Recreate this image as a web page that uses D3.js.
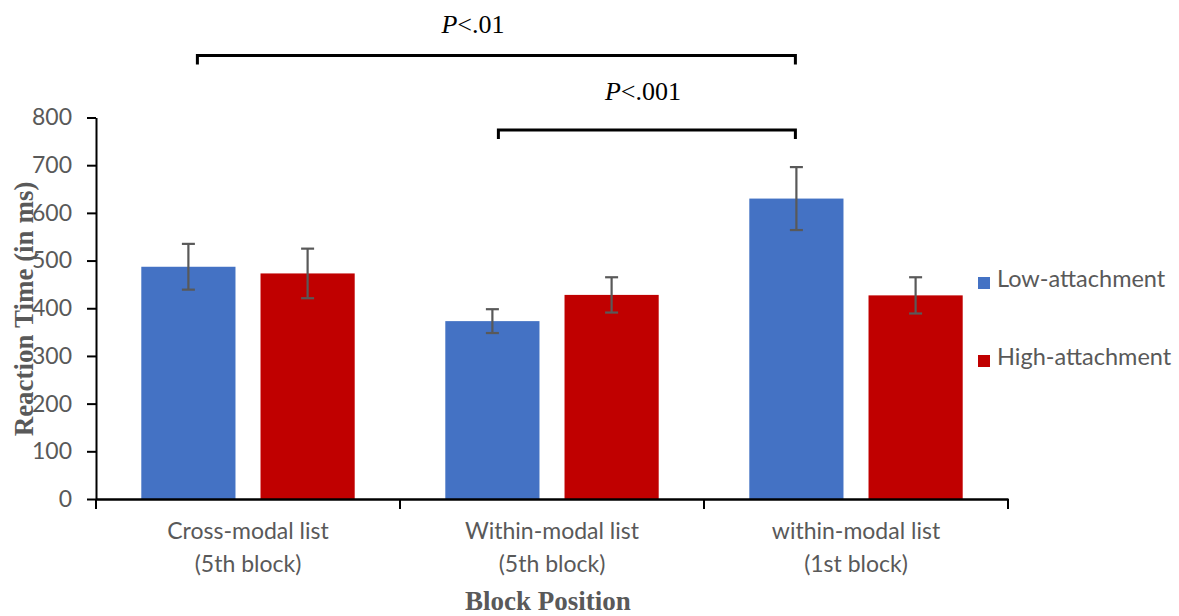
<!DOCTYPE html>
<html>
<head>
<meta charset="utf-8">
<script src="https://cdn.jsdelivr.net/npm/d3@7"></script>
<style>
  body { margin: 0; background: #fff; }
</style>
</head>
<body>
<div id="chartParent"></div>
<script>
// data
const categories = ["Cross-modal list|(5th block)", "Within-modal list|(5th block)", "within-modal list|(1st block)"];
const seriesNames = ["Low-attachment", "High-attachment"];
const lowValues = [487, 373, 630];
const lowErrors = [48, 25, 66];
const highValues = [473, 428, 427];
const highErrors = [52, 37, 38];
const yTicks = [0, 100, 200, 300, 400, 500, 600, 700, 800];
const brackets = [
  { from: 0, to: 2, label: ".01" },
  { from: 1, to: 2, label: ".001" }
];

const colors = ["#4472C4", "#C00000"];
const grey = "#595959";
const labelFont = "Lato, 'Open Sans', sans-serif";
const serifFont = "'Liberation Serif', 'Times New Roman', serif";

const W = 1179, H = 616;
const margin = { top: 117.5, left: 96, right: 171, bottom: 117 };
const width = W - margin.left - margin.right,
      height = H - margin.top - margin.bottom;

const svg = d3.select("#chartParent")
  .append("svg")
  .attr("width", W)
  .attr("height", H);

const g = svg.append("g")
  .attr("transform", `translate(${margin.left}, ${margin.top})`);

// scales
const x = d3.scaleBand()
  .domain(categories)
  .range([0, width])
  .padding(0);

const xs = d3.scaleBand()
  .domain(seriesNames)
  .range([0, x.bandwidth()])
  .paddingInner(0.21)
  .paddingOuter(0.38);

const y = d3.scaleLinear()
  .domain([0, 800])
  .range([height, 0]);

// bars
const rows = [];
categories.forEach((c, i) => {
  rows.push({ cat: c, s: seriesNames[0], v: lowValues[i], e: lowErrors[i], col: colors[0] });
  rows.push({ cat: c, s: seriesNames[1], v: highValues[i], e: highErrors[i], col: colors[1] });
});

g.append("g")
  .selectAll("rect")
  .data(rows)
  .enter()
  .append("rect")
    .attr("x", d => x(d.cat) + xs(d.s))
    .attr("y", d => y(d.v))
    .attr("width", xs.bandwidth())
    .attr("height", d => y(0) - y(d.v))
    .style("fill", d => d.col);

// error bars
const eb = g.append("g")
  .attr("stroke", grey)
  .attr("stroke-width", 2.2);
rows.forEach(d => {
  const cx = x(d.cat) + xs(d.s) + xs.bandwidth() / 2;
  eb.append("line")
    .attr("x1", cx).attr("x2", cx)
    .attr("y1", y(d.v + d.e)).attr("y2", y(d.v - d.e));
  [d.v + d.e, d.v - d.e].forEach(v => {
    eb.append("line")
      .attr("x1", cx - 6.5).attr("x2", cx + 6.5)
      .attr("y1", y(v)).attr("y2", y(v));
  });
});

// Y axis
const yAxis = g.append("g")
  .call(d3.axisLeft(y).tickValues(yTicks).tickSize(9).tickPadding(15).tickSizeOuter(0));
yAxis.select(".domain").attr("stroke", "#000").attr("stroke-width", 2);
yAxis.selectAll(".tick line").attr("stroke", "#000").attr("stroke-width", 2);
yAxis.selectAll(".tick text")
  .attr("fill", grey)
  .style("font-family", labelFont)
  .style("font-size", "23px");

// X axis line + boundary ticks
const xAxis = g.append("g")
  .attr("transform", `translate(0, ${height})`)
  .call(d3.axisBottom(x).tickSize(0).tickFormat(""));
xAxis.select(".domain").attr("stroke", "#000").attr("stroke-width", 2.5);

const bounds = categories.map(c => x(c)).concat([width]);
xAxis.selectAll(".bound")
  .data(bounds)
  .enter()
  .append("line")
    .attr("x1", d => d).attr("x2", d => d)
    .attr("y1", 0).attr("y2", 10)
    .attr("stroke", "#000")
    .attr("stroke-width", 2);

// category labels (two lines)
categories.forEach(c => {
  const t = xAxis.append("text")
    .attr("x", x(c) + x.bandwidth() / 2)
    .attr("y", 40)
    .attr("text-anchor", "middle")
    .attr("fill", grey)
    .style("font-family", labelFont)
    .style("font-size", "23px");
  c.split("|").forEach((line, i) => {
    t.append("tspan")
      .attr("x", x(c) + x.bandwidth() / 2)
      .attr("dy", i === 0 ? 0 : 33)
      .text(line);
  });
});

// axis titles
g.append("text")
  .attr("text-anchor", "middle")
  .attr("x", 452)
  .attr("y", height + 111)
  .text("Block Position")
  .style("font-family", serifFont)
  .style("font-weight", "bold")
  .style("font-size", "27px")
  .style("fill", grey);

g.append("text")
  .attr("text-anchor", "middle")
  .attr("transform", "rotate(-90)")
  .attr("x", -(309 - margin.top))
  .attr("y", -margin.left + 33)
  .text("Reaction Time (in ms)")
  .style("font-family", serifFont)
  .style("font-weight", "bold")
  .style("font-size", "27px")
  .style("fill", grey);

// significance brackets
const bracketLayout = [
  { by: -62, dx1: 9, dx2: -1, tx: 473, ty: 33 },
  { by: 12.5, dx1: 6, dx2: -1, tx: 643, ty: 100 }
];
brackets.forEach((b, i) => {
  const L = bracketLayout[i];
  const x1 = x(categories[b.from]) + xs(seriesNames[0]) + xs.bandwidth() / 2 + L.dx1;
  const x2 = x(categories[b.to]) + xs(seriesNames[0]) + xs.bandwidth() / 2 + L.dx2;
  g.append("path")
    .attr("d", `M${x1},${L.by + 9}V${L.by}H${x2}V${L.by + 9}`)
    .attr("fill", "none")
    .attr("stroke", "#000")
    .attr("stroke-width", 3);
  const t = svg.append("text")
    .attr("x", L.tx)
    .attr("y", L.ty)
    .attr("text-anchor", "middle")
    .style("font-family", serifFont)
    .style("font-size", "26px")
    .style("fill", "#000");
  t.append("tspan").style("font-style", "italic").text("P");
  t.append("tspan").text("<" + b.label);
});

// legend
const legend = svg.append("g")
  .attr("transform", "translate(978, 0)");
seriesNames.forEach((s, i) => {
  const ly = 287 + i * 78;
  legend.append("rect")
    .attr("x", 0)
    .attr("y", ly - 10)
    .attr("width", 12)
    .attr("height", 12)
    .style("fill", colors[i]);
  legend.append("text")
    .attr("x", 19)
    .attr("y", ly)
    .text(s)
    .style("font-family", labelFont)
    .style("font-size", "23.5px")
    .style("fill", grey);
});
</script>
</body>
</html>
